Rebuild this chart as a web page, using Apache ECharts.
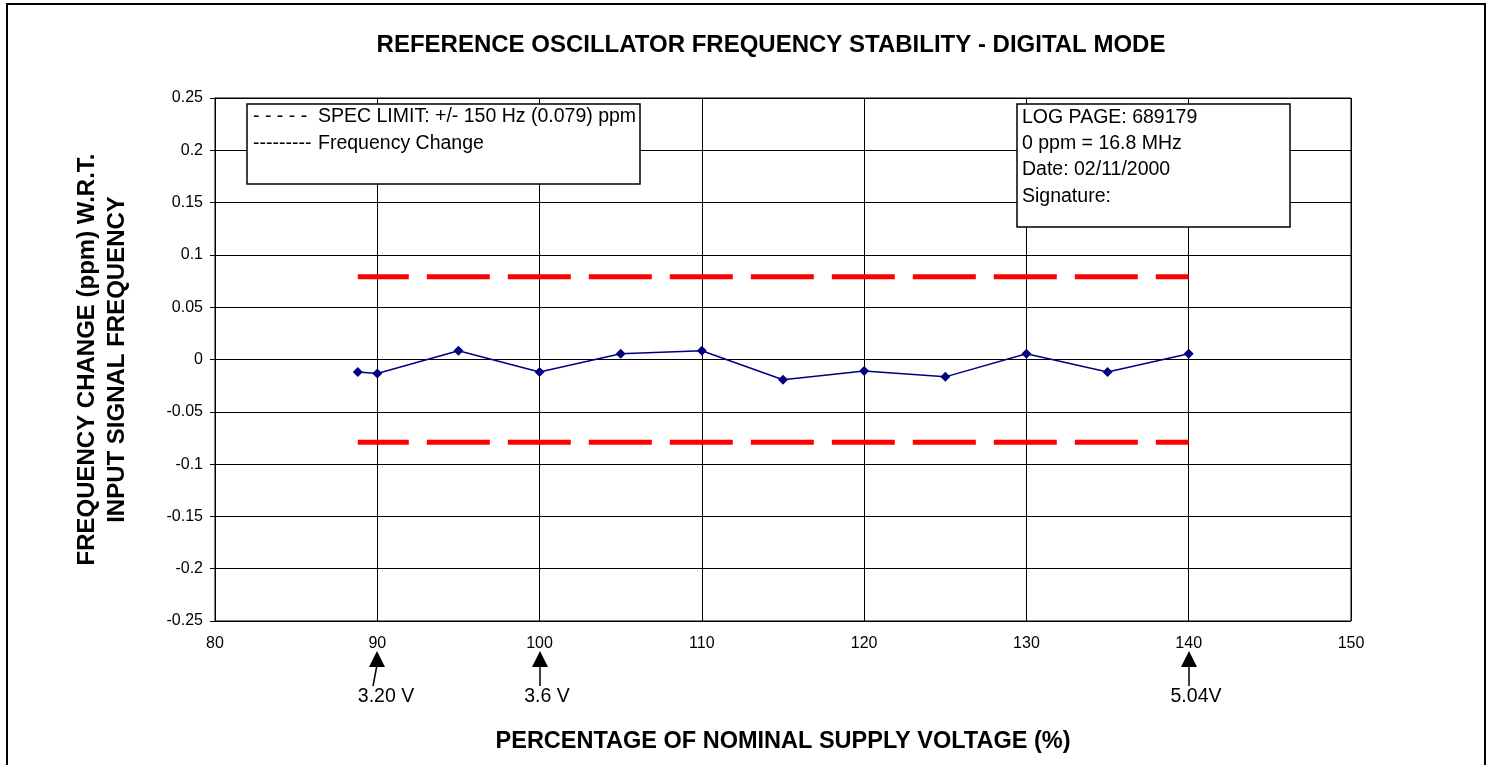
<!DOCTYPE html>
<html>
<head>
<meta charset="utf-8">
<script src="https://cdn.jsdelivr.net/npm/echarts@6/dist/echarts.min.js"></script>
<style>
html,body{margin:0;padding:0;background:#fff;}
#frame{position:absolute;left:6px;top:3px;width:1480px;height:800px;border:2px solid #000;border-bottom:none;box-sizing:border-box;}
#chart{position:absolute;left:0;top:0;width:1496px;height:765px;}
</style>
</head>
<body>
<div id="frame"></div>
<div id="chart"></div>
<script>
// Data
const xValues = [88.8, 90, 95, 100, 105, 110, 115, 120, 125, 130, 135, 140];
const freqChange = [-0.012, -0.0134, 0.0083, -0.012, 0.0055, 0.0083, -0.0194, -0.011, -0.0166, 0.0055, -0.012, 0.0055];
const specUpper = 0.079;
const specLower = -0.079;
const arrowX = [90, 100, 140];
const arrowLabels = ['3.20 V', '3.6 V', '5.04V'];
const legendMarks = ['- - - - -', '---------'];
const legendLabels = ['SPEC LIMIT: +/- 150 Hz (0.079) ppm', 'Frequency Change'];
const infoLines = ['LOG PAGE: 689179', '0 ppm = 16.8 MHz', 'Date: 02/11/2000', 'Signature:'];

const chart = echarts.init(document.getElementById('chart'));
const font = 'Arial, "Liberation Sans", sans-serif';

const freqData = xValues.map((x, i) => [x, freqChange[i]]);
const upperData = xValues.map(x => [x, specUpper]);
const lowerData = xValues.map(x => [x, specLower]);

const specStyle = { color: '#ff0000', width: 5, type: [63, 18], dashOffset: 12 };

const option = {
  backgroundColor: 'transparent',
  animation: false,
  title: {
    text: 'REFERENCE OSCILLATOR FREQUENCY STABILITY - DIGITAL MODE',
    left: 766, top: 28, textAlign: 'center',
    textStyle: { fontFamily: font, fontWeight: 'bold', fontSize: 24, color: '#000' }
  },
  grid: { left: 215, right: 145, top: 98, bottom: 144, show: true, borderColor: '#000', borderWidth: 1 },
  xAxis: {
    type: 'value', min: 80, max: 150, interval: 10,
    axisLine: { show: true, lineStyle: { color: '#000' } },
    axisTick: { show: true, length: 5, lineStyle: { color: '#000' } },
    axisLabel: { fontFamily: font, fontSize: 16, color: '#000', margin: 15 },
    splitLine: { show: true, lineStyle: { color: '#000', width: 1 } },
    name: 'PERCENTAGE OF NOMINAL SUPPLY VOLTAGE (%)',
    nameLocation: 'middle', nameGap: 109,
    nameTextStyle: { fontFamily: font, fontWeight: 'bold', fontSize: 23.5, color: '#000' }
  },
  yAxis: {
    type: 'value', min: -0.25, max: 0.25, interval: 0.05,
    axisLine: { show: true, onZero: false, lineStyle: { color: '#000' } },
    axisTick: { show: true, length: 5, lineStyle: { color: '#000' } },
    axisLabel: { fontFamily: font, fontSize: 16, color: '#000', margin: 12,
      formatter: v => String(Math.round(v * 100) / 100) },
    splitLine: { show: true, lineStyle: { color: '#000', width: 1 } },
    name: 'FREQUENCY CHANGE (ppm) W.R.T.\nINPUT SIGNAL FREQUENCY',
    nameLocation: 'middle', nameGap: 83, nameRotate: 90,
    nameTextStyle: { fontFamily: font, fontWeight: 'bold', fontSize: 24, color: '#000', lineHeight: 30 }
  },
  series: [
    { type: 'line', data: upperData, symbol: 'none', lineStyle: specStyle, z: 3 },
    { type: 'line', data: lowerData, symbol: 'none', lineStyle: specStyle, z: 3 },
    { type: 'line', data: freqData, symbol: 'diamond', symbolSize: 10,
      itemStyle: { color: '#000080' }, lineStyle: { color: '#000080', width: 1.5 }, z: 4 }
  ]
};
chart.setOption(option);

// annotations
const graphics = [];
// legend box
graphics.push({ type: 'rect', shape: { x: 247, y: 104, width: 393, height: 80 },
  style: { fill: '#fff', stroke: '#000', lineWidth: 1.5 }, z: 10 });
legendLabels.forEach((t, i) => {
  graphics.push({ type: 'text', x: 253, y: 117 + i * 27, z: 11,
    style: { text: legendMarks[i], font: '19.5px ' + font, fill: '#000', textVerticalAlign: 'middle' } });
  graphics.push({ type: 'text', x: 318, y: 117 + i * 27, z: 11,
    style: { text: t, font: '19.5px ' + font, fill: '#000', textVerticalAlign: 'middle' } });
});
// info box
graphics.push({ type: 'rect', shape: { x: 1017, y: 104, width: 273, height: 123 },
  style: { fill: '#fff', stroke: '#000', lineWidth: 1.5 }, z: 10 });
infoLines.forEach((t, i) => {
  graphics.push({ type: 'text', x: 1022, y: 117.5 + i * 26.3, z: 11,
    style: { text: t, font: '19.5px ' + font, fill: '#000', textVerticalAlign: 'middle' } });
});
// arrows
arrowX.forEach((xv, i) => {
  const p = chart.convertToPixel({ gridIndex: 0 }, [xv, -0.25]);
  const x = Math.round(p[0]);
  graphics.push({ type: 'polygon', shape: { points: [[x, 651], [x - 8, 667], [x + 8, 667]] },
    style: { fill: '#000' }, z: 10 });
  graphics.push({ type: 'line', shape: { x1: x, y1: 665, x2: x - (i === 0 ? 4 : 0), y2: 686 },
    style: { stroke: '#000', lineWidth: 1.5 }, z: 10 });
  graphics.push({ type: 'text', x: x + (i === 0 ? 9 : 7), y: 697, z: 11,
    style: { text: arrowLabels[i], font: '19.5px ' + font, fill: '#000',
      textAlign: 'center', textVerticalAlign: 'middle' } });
});
chart.setOption({ graphic: graphics });
</script>
</body>
</html>
